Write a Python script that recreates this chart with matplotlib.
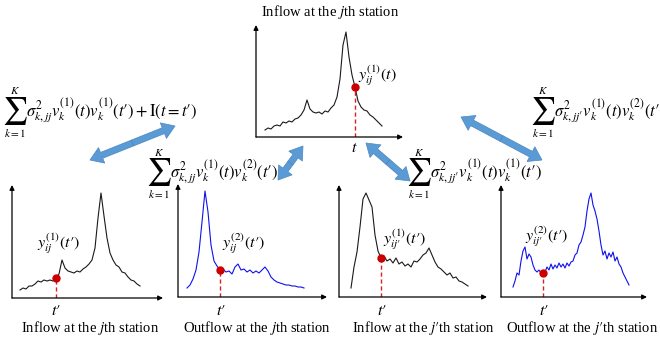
import numpy as np
import matplotlib
matplotlib.use("Agg")
from matplotlib import pyplot as plt
from matplotlib.patches import FancyArrowPatch

plt.rcParams['font.family'] = ['Liberation Serif', 'DejaVu Serif']
plt.rcParams['mathtext.fontset'] = 'stix'

W, H = 660, 343

# flow curves (x: time step, y: flow, arbitrary units)
t_top = np.arange(9, 127, 3)
inflow_j_top = [7, 9, 8, 11, 12, 11, 15, 14, 16, 15, 18, 19, 22, 27, 37, 28, 25, 24, 25, 23,
                26, 25, 29, 32, 40, 58, 92, 105, 80, 62, 50, 36, 30, 27, 26, 22, 20, 17, 14, 11]

t_in_j = np.arange(8, 129, 3)
inflow_j = [8, 10, 9, 12, 12, 14, 17, 16, 18, 17, 18, 17, 20, 24, 38, 30, 27, 26, 25, 27, 26,
            29, 31, 34, 38, 50, 80, 105, 82, 60, 45, 38, 33, 31, 26, 25, 21, 18, 17, 14, 12]

t_out_j = np.arange(9, 127, 3)
outflow_j = [9, 12, 18, 27, 45, 75, 106, 85, 52, 36, 31, 27, 28, 25, 26, 23, 30, 33, 27, 28,
             25, 27, 24, 26, 24, 27, 30, 26, 20, 17, 15, 14, 13, 12, 12, 11, 11, 10, 10, 9]

t_in_jp = np.arange(12, 130, 3)
inflow_jp = [9, 30, 45, 70, 98, 104, 97, 90, 62, 46, 39, 41, 36, 38, 34, 39, 33, 35, 31, 33,
             30, 36, 35, 38, 42, 44, 49, 42, 35, 30, 28, 25, 22, 24, 19, 20, 16, 15, 13, 11]

t_out_jp = np.arange(12, 130, 2)
outflow_jp = [10, 16, 24, 22, 36, 46, 50, 38, 43, 40, 32, 27, 25, 27, 24, 24, 25, 30, 27, 33,
              28, 32, 29, 34, 30, 33, 29, 34, 31, 35, 36, 42, 44, 52, 55, 62, 70, 86, 98, 104,
              92, 86, 78, 66, 52, 42, 46, 38, 44, 40, 45, 36, 40, 33, 30, 24, 20, 16, 12]

# index of the highlighted sample on each curve
dot_top, dot_in_j, dot_out_j, dot_in_jp, dot_out_jp = 30, 12, 11, 10, 15

fig = plt.figure(figsize=(6.6, 3.43), dpi=100)
ov = fig.add_axes([0, 0, 1, 1])
ov.set_xlim(0, W)
ov.set_ylim(H, 0)
ov.axis('off')


def panel(box, t, y, i, color):
    l, top, r, b = box
    ax = fig.add_axes([l / W, 1 - b / H, (r - l) / W, (b - top) / H])
    ax.set_xlim(0, r - l)
    ax.set_ylim(0, b - top)
    ax.axis('off')
    ax.plot(t, y, color=color, lw=0.8)
    ax.plot([t[i], t[i]], [0, y[i]], color='#e02020', ls=(0, (3, 2)), lw=1)
    ax.plot(t[i], y[i], 'o', color='#cc0000', ms=5, zorder=5)
    for end in [(0, 1), (1, 0)]:
        ax.annotate('', xy=end, xytext=(0, 0), xycoords='axes fraction',
                    arrowprops=dict(arrowstyle='-|>', lw=0.9, color='black',
                                    mutation_scale=7, shrinkA=0, shrinkB=0))
    return ax


panel((256, 25, 403, 137), t_top, inflow_j_top, dot_top, '#1a1a1a')
panel((12, 185, 163, 298), t_in_j, inflow_j, dot_in_j, '#1a1a1a')
panel((178, 184, 327, 297), t_out_j, outflow_j, dot_out_j, '#1010ee')
panel((339, 185, 487, 297), t_in_jp, inflow_jp, dot_in_jp, '#1a1a1a')
panel((501, 185, 647, 297), t_out_jp, outflow_jp, dot_out_jp, '#1010ee')

# captions
fs = 10.5
ov.text(330, 12, r'Inflow at the $j$th station', ha='center', va='center', fontsize=fs)
ov.text(90, 328, r'Inflow at the $j$th station', ha='center', va='center', fontsize=fs)
ov.text(257, 328, r'Outflow at the $j$th station', ha='center', va='center', fontsize=fs)
ov.text(423, 328, r"Inflow at the $j\prime$th station", ha='center', va='center', fontsize=fs)
ov.text(582, 328, r"Outflow at the $j\prime$th station", ha='center', va='center', fontsize=fs)

# point labels
ms = 11.5
ov.text(358, 76, r'$y_{ij}^{(1)}(t)$', ha='left', va='center', fontsize=ms)
ov.text(37, 244, r"$y_{ij}^{(1)}(t\prime)$", ha='left', va='center', fontsize=ms)
ov.text(222, 244, r"$y_{ij}^{(2)}(t\prime)$", ha='left', va='center', fontsize=ms)
ov.text(383, 240, r"$y_{ij\prime}^{(1)}(t\prime)$", ha='left', va='center', fontsize=ms)
ov.text(525, 237, r"$y_{ij\prime}^{(2)}(t\prime)$", ha='left', va='center', fontsize=ms)

ov.text(354, 148, r'$t$', ha='center', va='center', fontsize=ms)
for x in [56, 221, 382, 544]:
    ov.text(x, 311, r"$t\prime$", ha='center', va='center', fontsize=ms)


def formula(x, y, body):
    ov.text(x, y, r'$\sum$', ha='center', va='center', fontsize=20)
    ov.text(x, y - 20, r'$K$', ha='center', va='center', fontsize=8)
    ov.text(x, y + 22, r'$k=1$', ha='center', va='center', fontsize=8)
    ov.text(x + 11, y, body, ha='left', va='center', fontsize=12)


formula(15, 111, r"$\sigma_{k,jj}^{2}v_k^{(1)}(t)v_k^{(1)}(t\prime)+\mathrm{I}(t=t\prime)$")
formula(159, 172, r"$\sigma_{k,jj}^{2}v_k^{(1)}(t)v_k^{(2)}(t\prime)$")
formula(419, 172, r"$\sigma_{k,jj\prime}^{2}v_k^{(1)}(t)v_k^{(1)}(t\prime)$")
formula(543, 111, r"$\sigma_{k,jj\prime}^{2}v_k^{(1)}(t)v_k^{(2)}(t\prime)$")


def double_arrow(p, q):
    mid = ((p[0] + q[0]) / 2, (p[1] + q[1]) / 2)
    for end in (p, q):
        ov.add_patch(FancyArrowPatch(mid, end, arrowstyle='simple,head_length=0.9,head_width=1.2,tail_width=0.45',
                                     mutation_scale=10, fc='#5b9bd5', ec='#4a86bf', lw=0.5,
                                     shrinkA=0, shrinkB=0))


double_arrow((90, 160), (175, 126))
double_arrow((278, 180), (303, 146))
double_arrow((366, 143), (410, 181))
double_arrow((461, 117), (542, 160))

fig.savefig('out.png', dpi=100)
